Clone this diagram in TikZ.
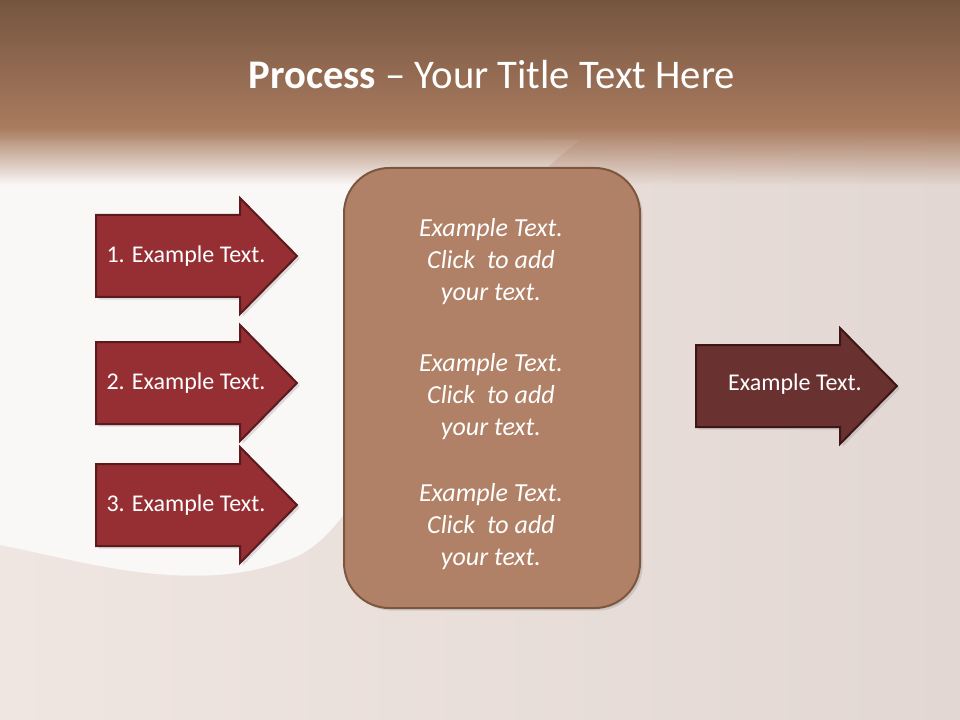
\documentclass[tikz,border=0pt]{standalone}
\usepackage{fontspec}
\setmainfont{Carlito}
\usetikzlibrary{shadows,fadings}
\definecolor{arrowred}{HTML}{952F33}
\definecolor{arrowedge}{HTML}{5C1A1C}
\definecolor{outred}{HTML}{6A3131}
\definecolor{outedge}{HTML}{3E1616}
\definecolor{boxfill}{HTML}{B08166}
\definecolor{boxedge}{HTML}{7D5640}
\definecolor{bandtop}{HTML}{765540}
\definecolor{bandbot}{HTML}{A97B5F}
\definecolor{bodyleft}{HTML}{F0E6E1}
\definecolor{bodyright}{HTML}{E2D7D2}
\definecolor{bodywhite}{HTML}{FAF8F7}
\newcommand\procarrow[3]{%
  \begin{scope}[shift={(#2,#3)}]
    \path[#1] (0,-41) -- (144,-41) -- (144,-58) -- (201,0) -- (144,58) -- (144,41) -- (0,41) -- cycle;
  \end{scope}}
\begin{document}
\begin{tikzpicture}[x=0.75pt,y=-0.75pt,
  inred/.style={fill=arrowred, draw=arrowedge, line width=1.5pt, line join=miter,
    drop shadow={opacity=0.25, shadow xshift=2pt, shadow yshift=-2pt}},
  outarrow/.style={fill=outred, draw=outedge, line width=1.5pt, line join=miter,
    drop shadow={opacity=0.25, shadow xshift=2pt, shadow yshift=-2pt}},
  arrowtext/.style={text=white, font=\fontsize{18}{22}\selectfont, inner sep=0pt},
  midtext/.style={text=white, align=center, font=\fontsize{19.5}{24}\selectfont\itshape, inner sep=0pt},
  boxstyle/.style={fill=boxfill, draw=boxedge, line width=1.5pt, rounded corners=34pt,
    drop shadow={opacity=0.25, shadow xshift=2pt, shadow yshift=-2pt}}
]
\useasboundingbox (0,0) rectangle (960,720);
% background
\shade[left color=bodyleft, right color=bodyright] (0,0) rectangle (960,720);
\fill[bodywhite] (0,140) -- (580,140) .. controls (420,260) and (400,500) .. (300,555)
  .. controls (200,600) and (80,560) .. (0,545) -- cycle;
\shade[top color=bandtop, bottom color=bandbot] (0,0) rectangle (960,128);
\fill[bandbot, path fading=south] (0,127) rectangle (960,185);
% title
\node[text=white, font=\fontsize{30.5}{36}\selectfont, inner sep=0pt] (title) at (492,75)
  {\textbf{Process} – Your Title Text Here};
% input arrows
\procarrow{inred}{96}{256}
\procarrow{inred}{96}{383}
\procarrow{inred}{96}{505}
\node[arrowtext] (a1) at (186,256) {1. Example Text.};
\node[arrowtext] (a2) at (186,383) {2. Example Text.};
\node[arrowtext] (a3) at (186,505) {3. Example Text.};
% centre box
\path[boxstyle] (344,168) rectangle (640,608);
\node[midtext] (m1) at (491,262) {Example Text.\\Click\ \ to add\\your text.};
\node[midtext] (m2) at (491,397) {Example Text.\\Click\ \ to add\\your text.};
\node[midtext] (m3) at (491,527) {Example Text.\\Click\ \ to add\\your text.};
% output arrow
\procarrow{outarrow}{696}{386}
\node[arrowtext] (out) at (795,384) {Example Text.};
\end{tikzpicture}
\end{document}
